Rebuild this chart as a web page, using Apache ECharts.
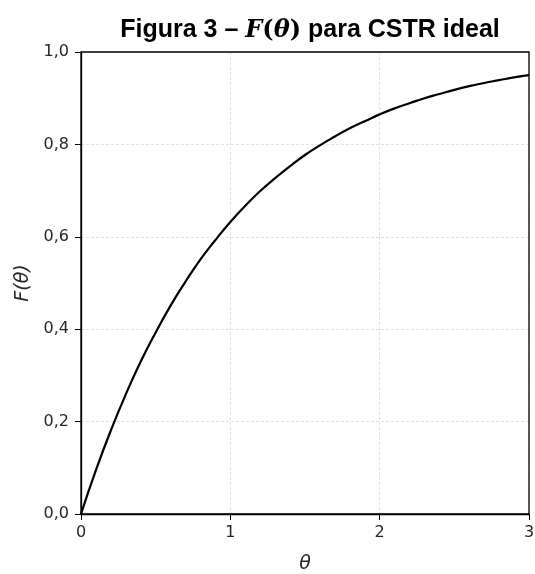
<!DOCTYPE html>
<html>
<head>
<meta charset="utf-8">
<script src="https://cdn.jsdelivr.net/npm/echarts@6/dist/echarts.min.js"></script>
<style>
  html, body { margin: 0; padding: 0; background: #fff; }
  #chart { width: 535px; height: 574px; }
</style>
</head>
<body>
<div id="chart"></div>
<script>
// θ (tempo adimensional) e F(θ)
const theta = [0, 0.1, 0.2, 0.3, 0.4, 0.5, 0.6, 0.7, 0.8, 0.9, 1.0, 1.1, 1.2, 1.3, 1.4, 1.5,
  1.6, 1.7, 1.8, 1.9, 2.0, 2.1, 2.2, 2.3, 2.4, 2.5, 2.6, 2.7, 2.8, 2.9, 3.0];
const fTheta = [0, 0.095, 0.181, 0.259, 0.330, 0.393, 0.451, 0.503, 0.551, 0.593, 0.632,
  0.667, 0.699, 0.727, 0.753, 0.777, 0.798, 0.817, 0.835, 0.850, 0.865, 0.878, 0.889,
  0.900, 0.909, 0.918, 0.926, 0.933, 0.939, 0.945, 0.950];
const xTicks = [0, 1, 2, 3];
const yTicks = [0, 0.2, 0.4, 0.6, 0.8, 1.0];

const chart = echarts.init(document.getElementById("chart"));
const tickFont = { color: "#262626", fontSize: 16, fontFamily: "DejaVu Sans" };
const fmtY = (v) => v.toFixed(1).replace(".", ",");
const gridLine = { color: "#d9d9d9", type: [3, 2], width: 0.8 };
const box = { left: 81, right: 6, top: 52, bottom: 60 };

chart.setOption({
  backgroundColor: "#fff",
  animation: false,
  title: {
    left: 305,
    textAlign: "center",
    top: 13,
    text: "{b|Figura 3 – }{m|F}{p|(}{m|θ}{p|)}{b| para CSTR ideal}",
    textStyle: {
      rich: {
        b: { fontFamily: "Liberation Sans", fontWeight: "bold", fontSize: 25, color: "#000" },
        m: { fontFamily: "DejaVu Serif", fontStyle: "italic", fontSize: 24, color: "#000" },
        p: { fontFamily: "DejaVu Serif", fontSize: 24, color: "#000" }
      }
    }
  },
  grid: { ...box, outerBoundsMode: "none", containLabel: false },
  graphic: [{
    type: "rect", z: 100, silent: true,
    shape: { x: box.left, y: box.top, width: 535 - box.left - box.right, height: 574 - box.top - box.bottom },
    style: { fill: null, stroke: "#000", lineWidth: 1.3 }
  }],
  xAxis: {
    type: "value",
    min: 0, max: 3, interval: 1,
    name: "θ",
    nameLocation: "middle",
    nameGap: 41,
    nameTextStyle: { fontFamily: "DejaVu Sans", fontStyle: "italic", fontSize: 19, color: "#262626" },
    axisLine: { onZero: false, lineStyle: { color: "#000", width: 1.3 } },
    axisTick: { show: true, length: 6, lineStyle: { color: "#000" } },
    axisLabel: { ...tickFont, margin: 11, formatter: (v) => xTicks.includes(v) ? String(v) : "" },
    splitLine: { show: true, lineStyle: gridLine }
  },
  yAxis: {
    type: "value",
    min: 0, max: 1, interval: 0.2,
    name: "F(θ)",
    nameLocation: "middle",
    nameGap: 43,
    nameTextStyle: { fontFamily: "DejaVu Sans", fontStyle: "italic", fontSize: 19, color: "#262626" },
    axisLine: { show: true, onZero: false, lineStyle: { color: "#000", width: 1.3 } },
    axisTick: { show: true, length: 6, lineStyle: { color: "#000" } },
    axisLabel: { ...tickFont, margin: 12, formatter: (v) => fmtY(v) },
    splitLine: { show: true, lineStyle: gridLine }
  },
  series: [{
    type: "line",
    data: theta.map((t, i) => [t, fTheta[i]]),
    smooth: true,
    showSymbol: false,
    lineStyle: { color: "#000", width: 2.2 }
  }]
});
</script>
</body>
</html>
